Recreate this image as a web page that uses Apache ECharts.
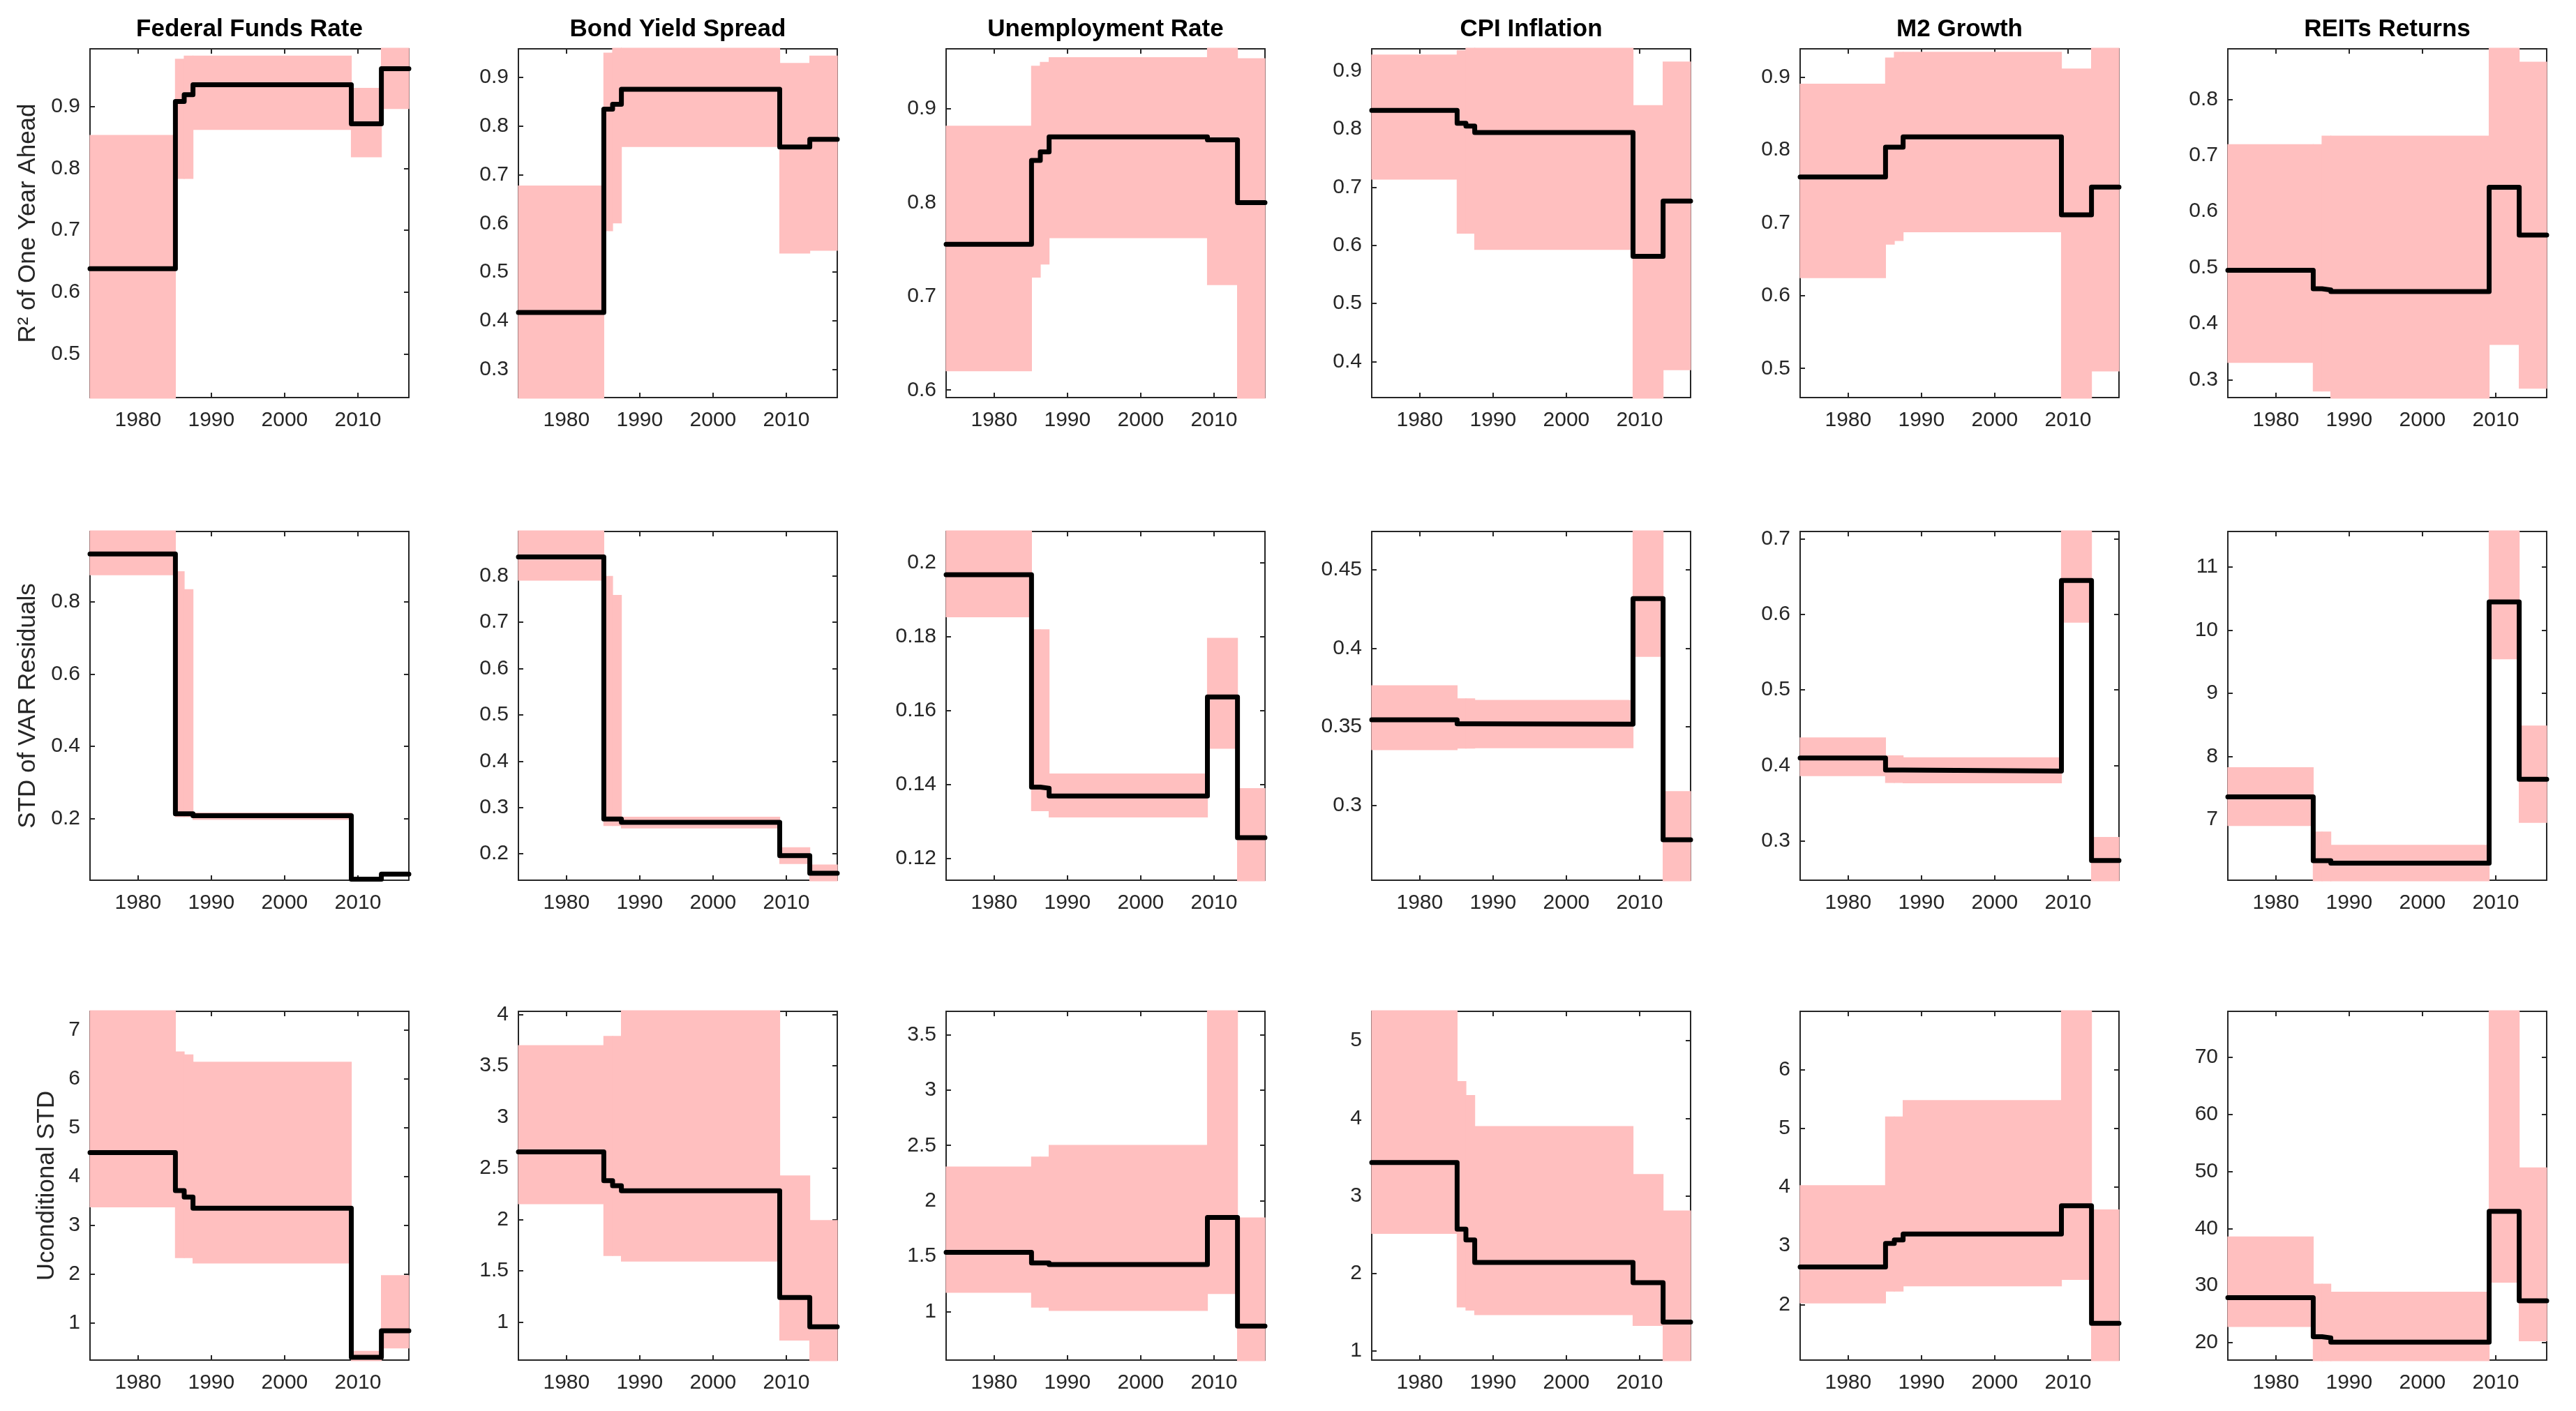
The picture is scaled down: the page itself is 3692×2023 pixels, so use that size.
<!DOCTYPE html>
<html><head><meta charset="utf-8">
<script src="https://cdn.jsdelivr.net/npm/echarts@6/dist/echarts.min.js"></script>
<style>html,body{margin:0;padding:0;background:#fff}#c{width:3692px;height:2023px}</style>
</head><body><div id="c"></div>
<script>
// ---------- data ----------
const panelTitles = ['Federal Funds Rate','Bond Yield Spread','Unemployment Rate','CPI Inflation','M2 Growth','REITs Returns'];
const rowNames = ['R\u00B2 of One Year Ahead','STD of VAR Residuals','Uconditional STD'];
// regime break dates (segment i runs from breakYears[i] to breakYears[i+1])
const breakYears = [1973.45, 1985.1, 1986.3, 1987.5, 2009.1, 2013.2, 2016.95];
const xTickYears = [1980, 1990, 2000, 2010];

// Row 1: R^2 of one year ahead (median, upper band, lower band) per variable
const r2Median = [
  [0.638, 0.908, 0.919, 0.935, 0.872, 0.961],
  [0.417, 0.835, 0.845, 0.876, 0.757, 0.773],
  [0.7555, 0.845, 0.854, 0.870, 0.867, 0.800],
  [0.832, 0.810, 0.805, 0.794, 0.581, 0.676],
  [0.763, 0.804, 0.804, 0.818, 0.711, 0.749],
  [0.495, 0.462, 0.460, 0.457, 0.643, 0.558]
];
const r2Upper = [
  [0.854, 0.977, 0.982, 0.982, 0.930, 1.02],
  [0.678, 0.951, 0.970, 0.970, 0.930, 0.945],
  [0.882, 0.946, 0.950, 0.955, 0.980, 0.954],
  [0.928, 0.936, 0.950, 0.950, 0.841, 0.916],
  [0.891, 0.927, 0.935, 0.935, 0.912, 0.960],
  [0.720, 0.720, 0.735, 0.735, 0.920, 0.867]
];
const r2Lower = [
  [0.40, 0.783, 0.783, 0.862, 0.818, 0.896],
  [0.20, 0.584, 0.600, 0.757, 0.538, 0.544],
  [0.620, 0.720, 0.734, 0.762, 0.712, 0.550],
  [0.713, 0.620, 0.620, 0.592, 0.300, 0.385],
  [0.624, 0.670, 0.675, 0.687, 0.440, 0.496],
  [0.330, 0.279, 0.279, 0.250, 0.362, 0.284]
];
const r2Limits = [[0.43, 0.993], [0.242, 0.959], [0.592, 0.964], [0.338, 0.938], [0.46, 0.939], [0.268, 0.89]];
const r2TickSteps = [0.1, 0.1, 0.1, 0.1, 0.1, 0.1];

// Row 2: STD of VAR residuals
const residMedian = [
  [0.9325, 0.213, 0.213, 0.2077, 0.032, 0.046],
  [0.841, 0.275, 0.275, 0.268, 0.196, 0.158],
  [0.1968, 0.1393, 0.1390, 0.1369, 0.1637, 0.1256],
  [0.3544, 0.3518, 0.3518, 0.3516, 0.4315, 0.278],
  [0.410, 0.394, 0.394, 0.3927, 0.6447, 0.2744],
  [7.36, 6.35, 6.35, 6.31, 10.45, 7.64]
];
const residUpper = [
  [1.05, 0.885, 0.835, 0.217, 0.036, 0.050],
  [0.92, 0.80, 0.759, 0.280, 0.214, 0.177],
  [0.215, 0.182, 0.182, 0.143, 0.1797, 0.139],
  [0.3764, 0.368, 0.368, 0.367, 0.48, 0.309],
  [0.4373, 0.4135, 0.4135, 0.411, 0.72, 0.3055],
  [7.83, 6.81, 6.81, 6.60, 11.8, 8.49]
];
const residLower = [
  [0.874, 0.204, 0.204, 0.196, 0.028, 0.042],
  [0.790, 0.260, 0.260, 0.255, 0.178, 0.13],
  [0.1853, 0.1328, 0.1328, 0.1311, 0.1497, 0.11],
  [0.335, 0.336, 0.336, 0.3363, 0.3944, 0.24],
  [0.386, 0.377, 0.377, 0.3766, 0.589, 0.24],
  [6.9, 5.9, 5.9, 5.9, 9.54, 6.95]
];
const residLimits = [[0.029, 0.995], [0.143, 0.896], [0.1141, 0.2085], [0.2522, 0.4743], [0.2484, 0.7095], [6.04, 11.566]];
const residTickSteps = [0.2, 0.1, 0.02, 0.05, 0.1, 1];

// Row 3: unconditional STD
const uncondMedian = [
  [4.49, 3.71, 3.58, 3.35, 0.30, 0.84],
  [2.66, 2.38, 2.33, 2.28, 1.24, 0.955],
  [1.536, 1.44, 1.44, 1.425, 1.85, 0.87],
  [3.43, 2.57, 2.43, 2.14, 1.88, 1.37],
  [2.64, 3.04, 3.10, 3.2, 3.68, 1.68],
  [27.85, 21.0, 20.8, 20.05, 43.0, 27.3]
];
const uncondUpper = [
  [7.6, 6.56, 6.50, 6.35, 0.43, 1.98],
  [3.70, 3.79, 3.79, 4.1, 2.43, 1.995],
  [2.31, 2.40, 2.40, 2.505, 3.8, 1.85],
  [5.5, 4.48, 4.3, 3.90, 3.28, 2.81],
  [4.03, 5.2, 5.2, 5.48, 7.1, 3.62],
  [38.6, 30.3, 30.3, 28.9, 80, 50.7]
];
const uncondLower = [
  [3.37, 2.33, 2.33, 2.22, 0.2, 0.48],
  [2.15, 1.645, 1.645, 1.59, 0.82, 0.6],
  [1.17, 1.036, 1.036, 1.006, 1.16, 0.5],
  [2.51, 1.56, 1.52, 1.46, 1.32, 0.8],
  [2.02, 2.22, 2.22, 2.31, 2.42, 1.0],
  [22.7, 16, 16, 16, 30.5, 20.2]
];
const uncondLimits = [[0.242, 7.38], [0.63, 4.03], [0.563, 3.71], [0.88, 5.38], [1.055, 6.99], [16.9, 78.1]];
const uncondTickSteps = [1, 0.5, 0.5, 1, 1, 10];

// ---------- layout ----------
const colLefts = [129, 743, 1356, 1966, 2580, 3193];
const rowTops = [70, 762, 1450];
const plotW = 457, plotH = 500;
const rowNameGaps = [71, 71, 44];
const FONT = "'Liberation Sans', Arial, Helvetica, sans-serif";
const AX = '#262626';
const BAND = '#FFBFBF';

const rows = [
  {med: r2Median, up: r2Upper, lo: r2Lower, lim: r2Limits, step: r2TickSteps},
  {med: residMedian, up: residUpper, lo: residLower, lim: residLimits, step: residTickSteps},
  {med: uncondMedian, up: uncondUpper, lo: uncondLower, lim: uncondLimits, step: uncondTickSteps}
];

function stepData(vals) {
  const pts = vals.map((v, i) => [breakYears[i], v]);
  pts.push([breakYears[breakYears.length - 1], vals[vals.length - 1]]);
  return pts;
}
function bandSegments(lo, up) {
  return lo.map((l, i) => [breakYears[i], breakYears[i + 1], l, up[i]]);
}
function ticksFor(min, max, step) {
  const out = [];
  for (let k = Math.ceil(min / step - 1e-9); k * step <= max + 1e-9; k++) {
    out.push(Math.round(k * step * 1e6) / 1e6);
  }
  return out;
}
const fmt = v => String(Math.round(v * 1e6) / 1e6);

function renderBand(params, api) {
  const p0 = api.coord([api.value(0), api.value(3)]);
  const p1 = api.coord([api.value(1), api.value(2)]);
  const cs = params.coordSys;
  const shape = echarts.graphic.clipRectByRect(
    {x: p0[0] - 0.6, y: p0[1], width: p1[0] - p0[0] + 1.2, height: p1[1] - p0[1]},
    {x: cs.x - 1.5, y: cs.y - 1.5, width: cs.width + 3, height: cs.height + 3});
  if (!shape) return null;
  return {type: 'rect', shape: shape, style: {fill: BAND}};
}

const grids = [], xAxes = [], yAxes = [], series = [], graphics = [];
const xMin = breakYears[0], xMax = breakYears[breakYears.length - 1];

rows.forEach((row, r) => {
  for (let c = 0; c < 6; c++) {
    const gi = grids.length;
    grids.push({left: colLefts[c], top: rowTops[r], width: plotW, height: plotH, outerBoundsMode: 'none', containLabel: false});
    const [ymin, ymax] = row.lim[c];
    const yt = ticksFor(ymin, ymax, row.step[c]);
    const axLine = {show: true, onZero: false, lineStyle: {color: AX, width: 2}};
    xAxes.push({type: 'value', gridIndex: gi, min: xMin, max: xMax, position: 'bottom',
      axisLine: axLine, splitLine: {show: false},
      axisTick: {show: true, inside: true, length: 7, customValues: xTickYears, lineStyle: {color: AX, width: 2}},
      axisLabel: {show: true, customValues: xTickYears, margin: 18, fontSize: 30, color: AX, fontFamily: FONT, formatter: v => String(v)}});
    xAxes.push({type: 'value', gridIndex: gi, min: xMin, max: xMax, position: 'top',
      axisLine: axLine, splitLine: {show: false},
      axisTick: {show: true, inside: true, length: 7, customValues: xTickYears, lineStyle: {color: AX, width: 2}},
      axisLabel: {show: false}});
    const yLeft = {type: 'value', gridIndex: gi, min: ymin, max: ymax, position: 'left',
      axisLine: axLine, splitLine: {show: false},
      axisTick: {show: true, inside: true, length: 7, customValues: yt, lineStyle: {color: AX, width: 2}},
      axisLabel: {show: true, customValues: yt, margin: 14, fontSize: 30, color: AX, fontFamily: FONT, formatter: fmt}};
    if (c === 0) {
      yLeft.name = rowNames[r];
      yLeft.nameLocation = 'middle';
      yLeft.nameGap = rowNameGaps[r];
      yLeft.nameTextStyle = {fontSize: 35, color: AX, fontFamily: FONT};
    }
    yAxes.push(yLeft);
    yAxes.push({type: 'value', gridIndex: gi, min: ymin, max: ymax, position: 'right',
      axisLine: axLine, splitLine: {show: false},
      axisTick: {show: true, inside: true, length: 7, customValues: yt, lineStyle: {color: AX, width: 2}},
      axisLabel: {show: false}});

    const xi = 2 * gi, yi = 2 * gi;
    const lo = row.lo[c], up = row.up[c], med = row.med[c];
    series.push({type: 'custom', xAxisIndex: xi, yAxisIndex: yi, data: bandSegments(lo, up),
      encode: {x: [0, 1], y: [2, 3]}, renderItem: renderBand, silent: true, z: 2});
    series.push({type: 'line', xAxisIndex: xi, yAxisIndex: yi, data: stepData(med), step: 'end',
      symbol: 'none', silent: true, lineStyle: {color: '#000', width: 7, join: 'round', cap: 'round'}, z: 4});

    if (r === 0) {
      graphics.push({type: 'text', x: colLefts[c] + plotW / 2, y: 42,
        style: {text: panelTitles[c], align: 'center', verticalAlign: 'middle',
          font: "bold 35px 'Liberation Sans', Arial, sans-serif", fill: '#000'}});
    }
  }
});

const chart = echarts.init(document.getElementById('c'), null, {renderer: 'canvas'});
chart.setOption({
  animation: false,
  backgroundColor: '#fff',
  grid: grids,
  xAxis: xAxes,
  yAxis: yAxes,
  series: series,
  graphic: graphics
});
</script></body></html>
